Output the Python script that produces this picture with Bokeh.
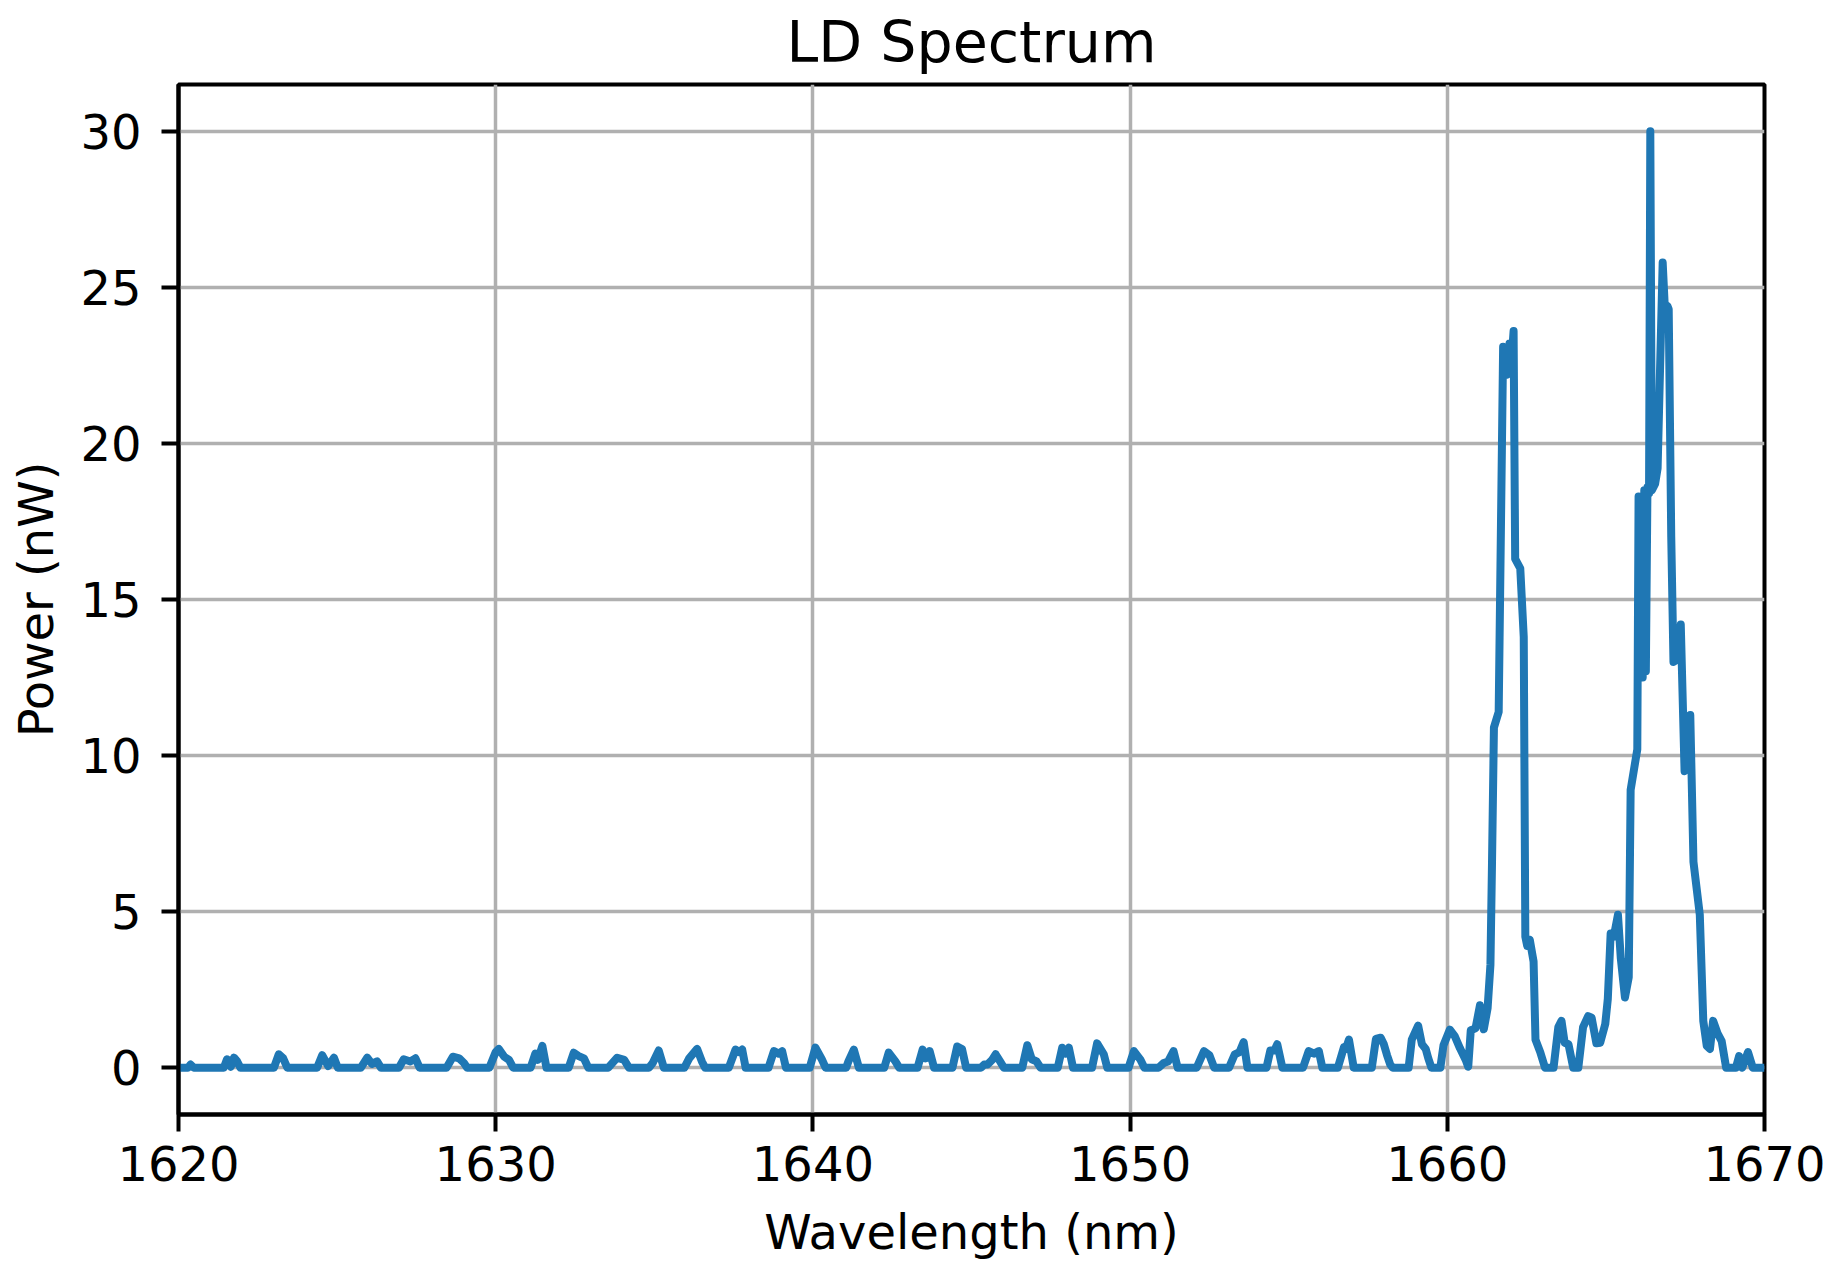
from bokeh.plotting import figure
from bokeh.models import ColumnDataSource, FixedTicker, Range1d
from bokeh.embed import file_html
from bokeh.resources import INLINE

# ---- data ----
wavelength_nm = [
    1620.00, 1620.30, 1620.38, 1620.48,
    1621.43, 1621.53, 1621.65, 1621.75, 1621.85, 1621.95,
    1623.01, 1623.16, 1623.30, 1623.43,
    1624.37, 1624.53, 1624.72, 1624.90, 1625.02,
    1625.75, 1625.95, 1626.10, 1626.26, 1626.38,
    1626.95, 1627.10, 1627.31, 1627.47, 1627.60,
    1628.45, 1628.65, 1628.85, 1629.00, 1629.10,
    1629.80, 1630.00, 1630.10, 1630.27, 1630.42, 1630.55,
    1631.10, 1631.25, 1631.33, 1631.47, 1631.60,
    1632.30, 1632.46, 1632.60, 1632.78, 1632.92,
    1633.55, 1633.83, 1634.05, 1634.20,
    1634.83, 1634.95, 1635.14, 1635.30,
    1635.95, 1636.10, 1636.35, 1636.50, 1636.60,
    1637.35, 1637.56, 1637.67, 1637.77, 1637.88,
    1638.60, 1638.77, 1638.92, 1639.03, 1639.15,
    1639.90, 1640.08, 1640.28, 1640.40,
    1641.05, 1641.12, 1641.29, 1641.45,
    1642.25, 1642.39, 1642.60, 1642.72,
    1643.30, 1643.46, 1643.56, 1643.68, 1643.82,
    1644.40, 1644.55, 1644.70, 1644.83,
    1645.30, 1645.40, 1645.50, 1645.65, 1645.76, 1645.90, 1646.02,
    1646.60, 1646.76, 1646.90, 1647.05, 1647.18,
    1647.72, 1647.86, 1647.96, 1648.07, 1648.20,
    1648.80, 1648.96, 1649.17, 1649.28,
    1649.95, 1650.12, 1650.33, 1650.45,
    1650.90, 1651.06, 1651.20, 1651.37, 1651.50,
    1652.10, 1652.33, 1652.50, 1652.65,
    1653.12, 1653.30, 1653.45, 1653.58, 1653.70,
    1654.30, 1654.42, 1654.55, 1654.64, 1654.80,
    1655.45, 1655.63, 1655.80, 1655.95, 1656.06,
    1656.55, 1656.74, 1656.80, 1656.90, 1657.05,
    1657.62, 1657.75, 1657.90, 1658.00, 1658.10, 1658.20, 1658.28,
    1658.78, 1658.88, 1659.08, 1659.20, 1659.32, 1659.40, 1659.50,
    1659.78, 1659.88, 1660.08, 1660.24, 1660.40, 1660.58, 1660.66,
    1660.74, 1660.89, 1661.03, 1661.15, 1661.27, 1661.36, 1661.41,
    1661.47, 1661.62, 1661.76, 1661.88, 1661.96, 1662.00, 1662.09,
    1662.14, 1662.30, 1662.41, 1662.46, 1662.52, 1662.60, 1662.72,
    1662.78, 1662.93, 1663.08, 1663.35, 1663.50, 1663.60, 1663.70,
    1663.82, 1663.97, 1664.13, 1664.28, 1664.44, 1664.55, 1664.70,
    1664.82, 1664.98, 1665.06, 1665.15, 1665.25, 1665.38, 1665.47,
    1665.60, 1665.72, 1665.78, 1665.99, 1666.03, 1666.07, 1666.11,
    1666.16, 1666.21, 1666.26, 1666.31, 1666.36, 1666.40, 1666.45,
    1666.55, 1666.63, 1666.79, 1666.86, 1666.94, 1666.98, 1667.06,
    1667.13, 1667.28, 1667.36, 1667.48, 1667.57, 1667.66, 1667.76,
    1667.96, 1668.07, 1668.18, 1668.28, 1668.38, 1668.52, 1668.65,
    1668.79, 1669.10, 1669.20, 1669.30, 1669.48, 1669.63, 1670.00,
]

power_nw = [
    0, 0, 0.10, 0,
    0, 0.27, 0.03, 0.32, 0.20, 0,
    0, 0.43, 0.30, 0,
    0, 0.40, 0.05, 0.32, 0,
    0, 0.32, 0.12, 0.20, 0,
    0, 0.27, 0.20, 0.30, 0,
    0, 0.35, 0.30, 0.15, 0,
    0, 0.50, 0.60, 0.35, 0.25, 0,
    0, 0.45, 0.25, 0.70, 0,
    0, 0.48, 0.38, 0.30, 0,
    0, 0.32, 0.25, 0,
    0, 0.15, 0.55, 0,
    0, 0.30, 0.60, 0.20, 0,
    0, 0.58, 0.50, 0.58, 0,
    0, 0.53, 0.45, 0.53, 0,
    0, 0.64, 0.27, 0,
    0, 0.20, 0.58, 0,
    0, 0.48, 0.20, 0,
    0, 0.58, 0.30, 0.53, 0,
    0, 0.68, 0.60, 0,
    0, 0.10, 0.10, 0.25, 0.43, 0.20, 0,
    0, 0.72, 0.27, 0.20, 0,
    0, 0.64, 0.45, 0.64, 0,
    0, 0.78, 0.43, 0,
    0, 0.53, 0.25, 0,
    0, 0.15, 0.20, 0.53, 0,
    0, 0.53, 0.40, 0,
    0, 0.43, 0.50, 0.82, 0,
    0, 0.55, 0.55, 0.75, 0,
    0, 0.53, 0.45, 0.53, 0,
    0, 0.65, 0.60, 0.90, 0,
    0, 0.92, 0.96, 0.75, 0.40, 0.10, 0,
    0, 0.90, 1.35, 0.75, 0.60, 0.30, 0,
    0, 0.72, 1.22, 1.00, 0.62, 0.25, 0.03,
    1.20, 1.26, 2.00, 1.23, 1.90, 3.30, 6.60,
    10.9, 11.4, 23.1, 22.2, 23.2, 22.3, 23.6,
    16.3, 16.0, 13.8, 4.2, 3.9, 4.1, 3.4,
    0.90, 0.50, 0, 0, 1.30, 1.50, 0.80,
    0.75, 0, 0, 1.30, 1.65, 1.60, 0.78,
    0.80, 1.40, 2.20, 4.30, 4.20, 4.90, 3.50,
    2.25, 2.90, 8.90, 10.2, 18.3, 12.6, 18.3,
    12.5, 18.5, 12.7, 18.6, 18.4, 30.0, 18.5,
    18.7, 19.2, 25.8, 24.3, 24.4, 24.3, 17.0,
    13.0, 13.1, 14.2, 9.5, 9.6, 11.3, 6.6,
    4.9, 1.5, 0.70, 0.60, 1.50, 1.10, 0.85,
    0, 0, 0.37, 0, 0.50, 0, 0,
]

x_ticks = [1620, 1630, 1640, 1650, 1660, 1670]
y_ticks = [0, 5, 10, 15, 20, 25, 30]
title_text = "LD Spectrum"
x_label = "Wavelength (nm)"
y_label = "Power (nW)"

FONT = "DejaVu Sans"

src = ColumnDataSource(data=dict(wl=wavelength_nm, pw=power_nw))

p = figure(
    width=1833, height=1263,
    output_backend="svg", toolbar_location=None,
    x_range=Range1d(1620, 1670), y_range=Range1d(-1.5, 31.5),
    min_border_left=178, min_border_right=69,
    min_border_top=84, min_border_bottom=149,
    title=title_text,
)

p.line("wl", "pw", source=src, line_width=8, line_color="#1f77b4",
       line_join="round")

p.title.text_font = FONT
p.title.text_font_size = "57px"
p.title.text_font_style = "normal"
p.title.align = "center"
p.title.vertical_align = "top"
p.title.standoff = 16
p.title.text_color = "black"

p.background_fill_color = "white"
p.border_fill_color = "white"
p.outline_line_color = "black"
p.outline_line_width = 4
p.outline_line_alpha = 1

for ax in (p.xaxis[0], p.yaxis[0]):
    ax.axis_line_color = "black"
    ax.axis_line_width = 4
    ax.major_tick_line_color = "black"
    ax.major_tick_line_width = 4
    ax.major_tick_out = 17
    ax.major_tick_in = 0
    ax.minor_tick_line_color = None
    ax.major_label_text_font = FONT
    ax.major_label_text_font_size = "48px"
    ax.major_label_text_color = "black"
    ax.axis_label_text_font = FONT
    ax.axis_label_text_font_size = "48px"
    ax.axis_label_text_font_style = "normal"
    ax.axis_label_text_color = "black"

p.xaxis[0].ticker = FixedTicker(ticks=x_ticks)
p.yaxis[0].ticker = FixedTicker(ticks=y_ticks)
p.xaxis[0].axis_label = x_label
p.yaxis[0].axis_label = y_label
p.xaxis[0].major_label_standoff = 14
p.xaxis[0].axis_label_standoff = 20
p.yaxis[0].major_label_standoff = 20
p.yaxis[0].axis_label_standoff = 13

p.xgrid[0].ticker = FixedTicker(ticks=x_ticks)
p.ygrid[0].ticker = FixedTicker(ticks=y_ticks)
for g in (p.xgrid[0], p.ygrid[0]):
    g.grid_line_color = "#b0b0b0"
    g.grid_line_width = 3.5
    g.grid_line_alpha = 1

open("out.html", "w").write(file_html(p, INLINE))
